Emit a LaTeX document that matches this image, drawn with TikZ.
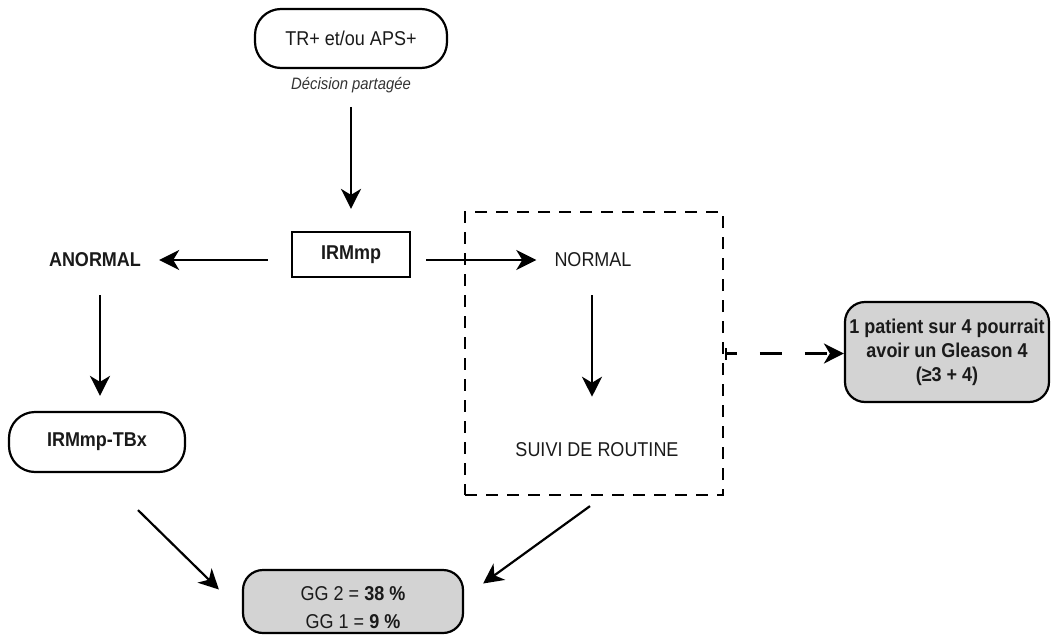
\documentclass[tikz,border=0pt]{standalone}
\usepackage{fontspec}
\setmainfont[FakeStretch=0.9]{Liberation Sans}
\usetikzlibrary{arrows.meta,calc}
\definecolor{boxgray}{HTML}{D3D3D3}
\definecolor{ink}{HTML}{1A1A1A}
\definecolor{note}{HTML}{333333}
\begin{document}
\begin{tikzpicture}[x=1pt,y=-1pt,
  txt/.style={font=\fontsize{20}{24}\selectfont, text=ink, inner sep=0pt},
  pill/.style={txt, draw, line width=2.2pt, rounded corners=26pt, align=center},
  greybox/.style={pill, fill=boxgray, rounded corners=20pt},
  arr/.style={line width=2.2pt, -{Stealth[length=20pt,width=20pt,inset=6pt]}},
]
\useasboundingbox (0,0) rectangle (1052,637);

% boxes and labels
\node[pill, minimum width=192pt, minimum height=59pt] (start) at (351,38.5) {TR+ et/ou APS+};
\node[txt, font=\fontsize{16.5}{19}\selectfont\itshape, text=note] (dec) at (351,85) {Décision partagée};
\node[txt, draw, line width=2.2pt, font=\fontsize{20}{24}\selectfont\bfseries,
      minimum width=118pt, minimum height=45pt] (irm) at (351,254.5) {IRMmp};
\node[txt, font=\fontsize{20}{24}\selectfont\bfseries] (anormal) at (95,260) {ANORMAL};
\node[txt] (normal) at (593,260) {NORMAL};
\node[pill, font=\fontsize{20}{24}\selectfont\bfseries,
      minimum width=176pt, minimum height=60pt] (tbx) at (97,442) {IRMmp-TBx};
\node[txt] (suivi) at (597,450) {SUIVI DE ROUTINE};
\node[draw, line width=2.2pt, dash pattern=on 12pt off 9pt,
      minimum width=258pt, minimum height=283pt, inner sep=0pt] (zone) at (594,353.5) {};
\node[greybox, font=\fontsize{20}{24}\selectfont\bfseries,
      minimum width=204pt, minimum height=100pt] (gleason) at (947,352)
      {1 patient sur 4 pourrait\\avoir un Gleason 4\\(≥3 + 4)};
\node[greybox, font=\fontsize{20}{28}\selectfont,
      minimum width=220pt, minimum height=63pt] (gg) at (353,601.5)
      {\rule{0pt}{27pt}GG 2 = \textbf{38 \%}\\GG 1 = \textbf{9 \%}};

% connectors
\draw[arr] ($(dec.south)+(0,14)$) -- ($(irm.north)+(0,-22)$);
\draw[arr] ($(irm.west |- anormal.east)+(-23,0)$) -- ($(anormal.east)+(18,0)$);
\draw[arr] ($(irm.east |- normal.west)+(15,0)$) -- ($(normal.west)+(-18,0)$);
\draw[arr] ($(anormal.south)+(5,28)$) -- ($(anormal.south |- tbx.north)+(5,-15)$);
\draw[arr] ($(normal.south)+(-1,28)$) -- ($(normal.south |- suivi.north)+(-1,-46)$);
\draw[arr] ($(tbx.south)+(41,37)$) -- ($(gg.west)+(-23,-12)$);
\draw[arr] ($(zone.south)+(-4,10)$) -- ($(gg.east)+(19,-18)$);
\draw[line width=2.2pt, dash pattern=on 22pt off 23pt, dash phase=12pt,
      {Bar[width=12pt]}-{Stealth[length=20pt,width=20pt,inset=6pt]}]
  ($(zone.east)+(1,0)$) -- (zone.east -| gleason.west);
\end{tikzpicture}
\end{document}
